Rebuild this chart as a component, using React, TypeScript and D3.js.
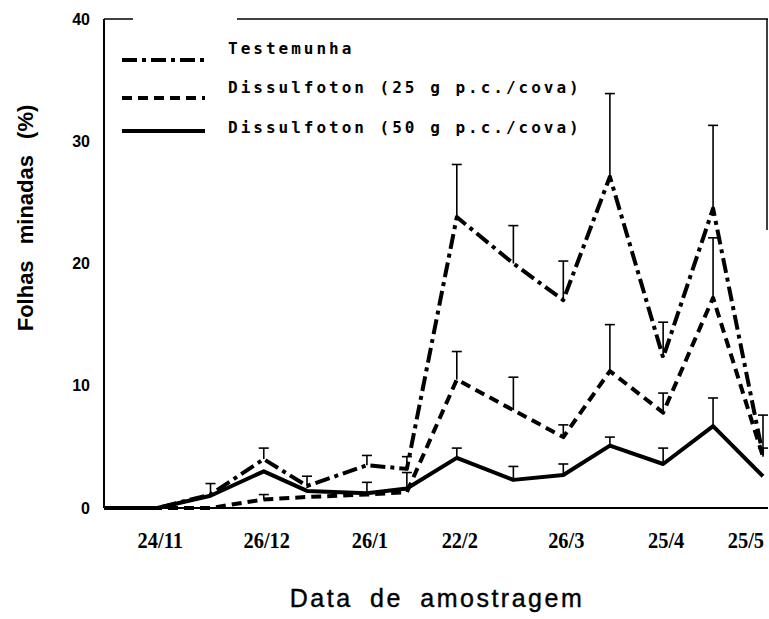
import * as d3 from "d3";
import React from "react";

// sampling dates (day/month), year only used for spacing
const sampleDates = [
  "1990-11-08", "1990-11-24", "1990-12-10", "1990-12-26", "1991-01-08",
  "1991-01-26", "1991-02-07", "1991-02-22", "1991-03-11", "1991-03-26",
  "1991-04-09", "1991-04-25", "1991-05-10", "1991-05-25",
];

const testemunha = [0, 0, 1.1, 4.0, 1.8, 3.5, 3.2, 23.8, 20.0, 17.0, 27.1, 12.3, 24.5, 4.3];
const testemunhaErr = [0, 0, 0.9, 0.9, 0.8, 0.8, 1.0, 4.3, 3.1, 3.2, 6.8, 2.9, 6.8, 3.3];

const dissulf25 = [0, 0, 0, 0.7, 0.9, 1.1, 1.3, 10.5, 8.0, 5.8, 11.2, 7.8, 17.2, 4.2];
const dissulf25Err = [0, 0, 0, 0.4, 0, 0, 1.6, 2.3, 2.7, 1.0, 3.8, 1.6, 4.9, 0.7];

const dissulf50 = [0, 0, 1.0, 3.0, 1.4, 1.2, 1.6, 4.1, 2.3, 2.7, 5.1, 3.6, 6.7, 2.6];
const dissulf50Err = [0, 0, 0, 0, 0, 0.9, 0, 0.8, 1.1, 0.9, 0.7, 1.3, 2.3, 0];

const xTickDates = ["1990-11-24", "1990-12-26", "1991-01-26", "1991-02-22", "1991-03-26", "1991-04-25", "1991-05-25"];
const xTickLabels = ["24/11", "26/12", "26/1", "22/2", "26/3", "25/4", "25/5"];
const yTicks = [0, 10, 20, 30, 40];

const seriesNames = ["Testemunha", "Dissulfoton (25 g p.c./cova)", "Dissulfoton (50 g p.c./cova)"];

const parse = d3.timeParse("%Y-%m-%d");

export default function App() {
  const width = 769,
    height = 619;
  const left = 104,
    right = 767,
    top = 19,
    bottom = 508;

  const dates = sampleDates.map((d) => parse(d) as Date);

  const x = d3
    .scaleTime()
    .domain([dates[0], dates[dates.length - 1]])
    .range([left, 763]);

  const y = d3.scaleLinear().domain([0, 40]).range([bottom, top]);

  const series = [
    { name: seriesNames[0], values: testemunha, err: testemunhaErr, dash: "15 5 4 5" },
    { name: seriesNames[1], values: dissulf25, err: dissulf25Err, dash: "10 6" },
    { name: seriesNames[2], values: dissulf50, err: dissulf50Err, dash: null },
  ];

  const line = d3
    .line<number>()
    .x((_, i) => x(dates[i]))
    .y((d) => y(d));

  const legendY = [60, 98, 131];
  const legendTextY = [54, 93, 133];

  return (
    <svg
      width={width}
      height={height}
      style={{ position: "absolute", left: 0, top: 0, background: "#fff" }}
    >
      {/* frame (top line has a gap, as in the scan) */}
      <g stroke="#000" fill="none">
        <line x1={left} x2={left} y1={top} y2={bottom} strokeWidth={2} />
        <line x1={left} x2={right + 1} y1={bottom} y2={bottom} strokeWidth={2} />
        <line x1={left} x2={133} y1={top} y2={top} strokeWidth={1.5} />
        <line x1={237} x2={right + 1} y1={top} y2={top} strokeWidth={1.5} />
        <line x1={right} x2={right} y1={top} y2={230} strokeWidth={1.5} />
      </g>

      {/* y tick labels */}
      {yTicks.map((t) => (
        <text
          key={t}
          x={90}
          y={y(t)}
          dy="0.35em"
          textAnchor="end"
          fontFamily="Liberation Sans, Arial, sans-serif"
          fontWeight="bold"
          fontSize={16}
        >
          {t}
        </text>
      ))}

      {/* x tick labels */}
      {xTickDates.map((d, i) => {
        const last = i === xTickDates.length - 1;
        const px = x(parse(d) as Date);
        return (
          <text
            key={d}
            transform={`translate(${last ? 764 : px + 3},548) scale(0.85,1)`}
            textAnchor={last ? "end" : "middle"}
            fontFamily="Liberation Serif, Times New Roman, serif"
            fontWeight="bold"
            fontSize={24}
          >
            {xTickLabels[i]}
          </text>
        );
      })}

      {/* axis titles */}
      <text
        x={437}
        y={607}
        textAnchor="middle"
        fontFamily="Liberation Sans, Arial, sans-serif"
        fontSize={25}
        letterSpacing={2.5}
        wordSpacing={8}
        stroke="#000"
        strokeWidth={0.4}
      >
        Data de amostragem
      </text>
      <text
        transform="translate(33,218) rotate(-90)"
        textAnchor="middle"
        fontFamily="Liberation Sans, Arial, sans-serif"
        fontWeight="bold"
        fontSize={22}
        wordSpacing={10}
      >
        Folhas minadas (%)
      </text>

      {/* error bars */}
      {series.map((s) => (
        <g key={s.name + "-err"} stroke="#000" strokeWidth={1.6}>
          {s.values.map((v, i) =>
            s.err[i] > 0 ? (
              <g key={i}>
                <line x1={x(dates[i])} x2={x(dates[i])} y1={y(v)} y2={y(v + s.err[i])} />
                <line x1={x(dates[i]) - 5} x2={x(dates[i]) + 5} y1={y(v + s.err[i])} y2={y(v + s.err[i])} />
              </g>
            ) : null
          )}
        </g>
      ))}

      {/* series lines */}
      {series.map((s) => (
        <path
          key={s.name}
          d={line(s.values) ?? ""}
          fill="none"
          stroke="#000"
          strokeWidth={4}
          strokeLinejoin="round"
          strokeDasharray={s.dash ?? undefined}
        />
      ))}

      {/* legend */}
      {series.map((s, i) => (
        <g key={s.name + "-leg"}>
          <line
            x1={122}
            x2={205}
            y1={legendY[i]}
            y2={legendY[i]}
            stroke="#000"
            strokeWidth={4}
            strokeDasharray={s.dash ?? undefined}
          />
          <text
            x={228}
            y={legendTextY[i]}
            fontFamily="DejaVu Sans Mono, monospace"
            fontWeight="bold"
            fontSize={16}
            letterSpacing={3}
          >
            {s.name}
          </text>
        </g>
      ))}
    </svg>
  );
}
